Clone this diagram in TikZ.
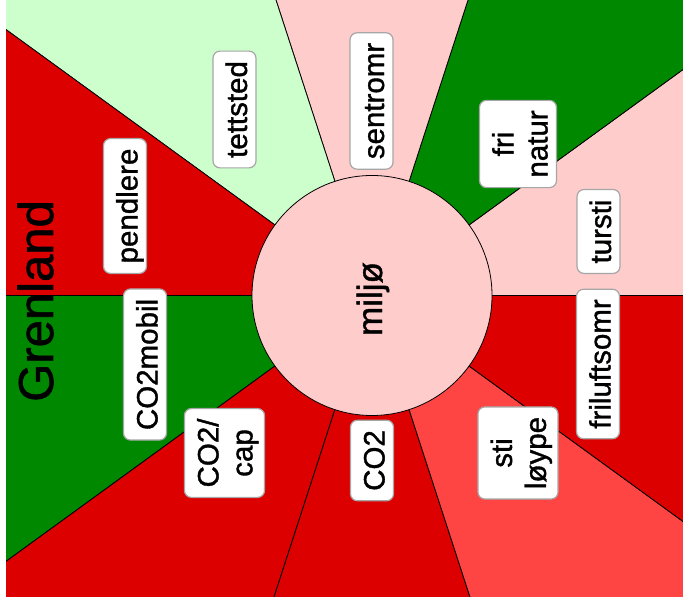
\documentclass[tikz,border=0pt]{standalone}
\usepackage{fontspec}
\setmainfont{Liberation Sans}[FakeBold=1.2]
\definecolor{cred}{HTML}{DD0000}
\definecolor{cgreen}{HTML}{008800}
\definecolor{cpink}{HTML}{FFCCCC}
\definecolor{clgreen}{HTML}{CCFFCC}
\definecolor{clred}{HTML}{FF4444}
\newcommand\lblfont{\fontsize{29.5}{34}\selectfont}
\newcommand\lst{\rule[-3pt]{0pt}{31pt}}
\begin{document}
\begin{tikzpicture}[x=1pt,y=1pt,
  lbox/.style={draw=black!35, fill=white, rounded corners=7pt, line width=1.2pt,
    rotate=90, font=\lblfont, inner xsep=10pt, inner ysep=6pt},
  lbl/.style={lbox, text height=28pt, text depth=3pt},
  lbltwo/.style={lbox, align=center},
  sector/.style={draw=black, line width=0.8pt}]
\useasboundingbox (0,0) rectangle (683,607);
\fill[white] (0,0) rectangle (683,607);
\coordinate (C) at (372,311.5);
\begin{scope}
  \clip (6,10) rectangle (683,607);
  \foreach \a/\c in {0/cpink, 36/cgreen, 72/cpink, 108/clgreen, 144/cred,
                     180/cgreen, 216/cred, 252/cred, 288/clred, 324/cred}
    \filldraw[sector, fill=\c] (C) -- +(\a:900) -- +(\a+36:900) -- cycle;
\end{scope}
\node[circle, draw=black, line width=0.8pt, fill=cpink, minimum size=240pt, inner sep=0pt] (hub) at (C) {};
\node[rotate=90, anchor=base, font=\fontsize{35}{40}\selectfont] (miljo) at (382,308) {miljø};
\node[rotate=90, anchor=base, font=\fontsize{49}{55}\selectfont] (grenland) at (53,306) {Grenland};
\node[lbl] (tettsted) at (234.5,497.5) {tettsted};
\node[lbl] (pendlere) at (125,401) {pendlere};
\node[lbl] (sentromr) at (371.5,506) {sentromr};
\node[lbltwo] (frinatur) at (518,463) {\lst fri\\\lst natur};
\node[lbl] (tursti) at (598.5,375.5) {tursti};
\node[lbl] (friluftsomr) at (598,243) {friluftsomr};
\node[lbltwo] (stiloype) at (518,154) {\lst sti\\\lst løype};
\node[lbl] (co2) at (372,146.5) {CO2};
\node[lbltwo] (co2cap) at (224.5,154) {\lst CO2/\\\lst cap};
\node[lbl] (co2mobil) at (145,242.5) {CO2mobil};
\end{tikzpicture}
\end{document}
